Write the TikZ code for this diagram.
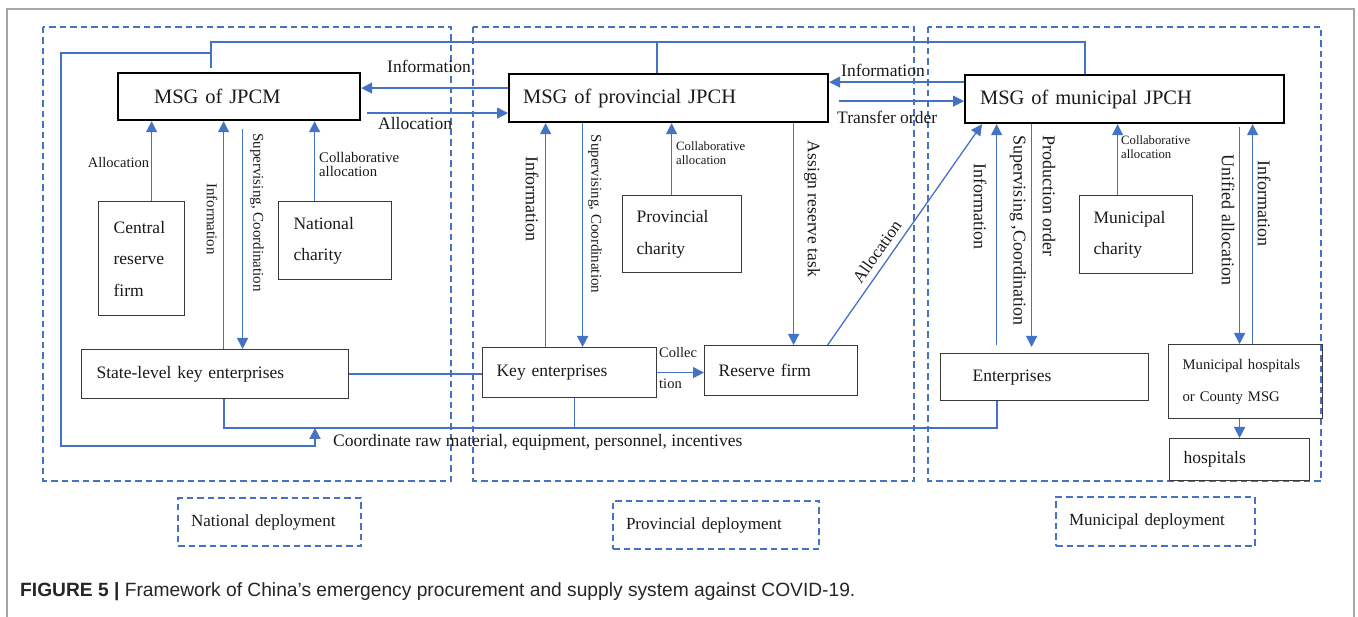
\documentclass[tikz,border=0pt]{standalone}
\usepackage{fontspec}
\setmainfont{Liberation Serif}
\newfontfamily\capfont{Liberation Sans}
\usetikzlibrary{arrows.meta}
\definecolor{bl}{HTML}{4472C4}
\definecolor{bd}{HTML}{3A3A3A}
\definecolor{fr}{HTML}{A6A6A6}
\definecolor{tx}{HTML}{1A1A1A}
\newcommand\fsz[2]{\fontsize{#1}{#2}\selectfont}
\begin{document}
\begin{tikzpicture}[x=1pt,y=-1pt,
  every node/.style={text=tx},
  region/.style={draw=bl, line width=2pt, dash pattern=on 6.5pt off 4pt},
  box/.style={draw=bd, line width=1.2pt, anchor=north west, inner ysep=0pt, align=left, font=\fsz{17.5}{31.5}},
  msg/.style={draw=black, line width=2.2pt, anchor=north west, inner ysep=0pt, align=left, font=\fsz{20.5}{24}},
  dep/.style={draw=bl, line width=2pt, dash pattern=on 6.5pt off 4pt, anchor=north west, inner ysep=0pt, align=left, font=\fsz{17}{20}},
  arr/.style={draw=bl, line width=1.3pt, -{Triangle[length=11pt,width=11pt]}},
  ln/.style={draw=bl, line width=1.3pt},
  thk/.style={draw=bl, line width=2pt},
  lab/.style={inner sep=0pt, font=\fsz{17.5}{20}},
  labs/.style={inner sep=0pt, font=\fsz{14.7}{14}},
  labxs/.style={inner sep=0pt, font=\fsz{12.7}{13.5}}]
\useasboundingbox (0,0) rectangle (1358,617);
% outer frame
\draw[fr, line width=1.5pt] (7,640) -- (7,9) -- (1354,9) -- (1354,640);
% regions
\draw[region] (43,27) rectangle (451,481);
\draw[region] (473,27) rectangle (914,481);
\draw[region] (928,27) rectangle (1321,481);
% main boxes
\node[msg, minimum width=242pt, minimum height=47pt, inner xsep=36pt, text width=170pt] (jpcm) at (117,72) {MSG of JPCM};
\node[msg, minimum width=319pt, minimum height=48pt, inner xsep=14pt, text width=291pt] (prov) at (508,73) {MSG of provincial JPCH};
\node[msg, minimum width=319pt, minimum height=48pt, inner xsep=15pt, text width=289pt] (muni) at (964,74) {MSG of municipal JPCH};
\node[box, minimum width=86pt, minimum height=114pt, inner xsep=15pt, text width=56pt] (central) at (98,201) {Central\\reserve\\firm};
\node[box, minimum width=113pt, minimum height=78pt, inner xsep=15pt, text width=83pt] (natchar) at (278,201) {National\\charity};
\node[box, minimum width=267pt, minimum height=49pt, inner xsep=15pt, text width=237pt] (state) at (81,349) {State-level key enterprises};
\node[box, minimum width=119pt, minimum height=77pt, inner xsep=14pt, text width=91pt] (provchar) at (622,195) {Provincial\\charity};
\node[box, minimum width=174pt, minimum height=50pt, inner xsep=14pt, text width=146pt] (keyent) at (482,347) {Key enterprises};
\node[box, minimum width=153pt, minimum height=50pt, inner xsep=14pt, text width=125pt] (reserve) at (704,345) {Reserve firm};
\node[box, minimum width=113pt, minimum height=78pt, inner xsep=14pt, text width=85pt] (munchar) at (1079,195) {Municipal\\charity};
\node[box, minimum width=208pt, minimum height=47pt, inner xsep=32pt, text width=144pt] (ent) at (940,353) {Enterprises};
\node[box, minimum width=154pt, minimum height=74pt, inner xsep=14pt, text width=126pt, font=\fsz{14.7}{32}] (munhosp) at (1168,344) {Municipal hospitals\\or County MSG};
\node[box, minimum width=140pt, minimum height=42pt, inner xsep=14pt, text width=112pt] (hosp) at (1169,438) {hospitals};
% deployment labels
\node[dep, minimum width=183pt, minimum height=48pt, inner xsep=13pt, text width=157pt] (natdep) at (177,497) {National deployment};
\node[dep, minimum width=206pt, minimum height=48pt, inner xsep=13pt, text width=180pt] (provdep) at (612,500) {Provincial deployment};
\node[dep, minimum width=199pt, minimum height=49pt, inner xsep=13pt, text width=173pt] (mundep) at (1055,496) {Municipal deployment};
% helper coordinates
\coordinate (topbus) at (0,42);
\coordinate (botbus) at (0,428);
\coordinate (lj) at (210,53);
\coordinate (lc) at (61,446);
\coordinate (busin) at (315,428);
% buses
\draw[thk, shorten <=4pt] ([xshift=-28pt]jpcm.north) |- ([xshift=-39.5pt]muni.north |- topbus) -- ([xshift=-39.5pt]muni.north);
\draw[thk] ([xshift=-11.5pt]prov.north) -- ([xshift=-11.5pt]prov.north |- topbus);
\draw[thk, -{Triangle[length=11pt,width=11pt]}] (lj) -| (lc) -| (busin);
\draw[thk] ([xshift=8.5pt]state.south) |- ([xshift=-48pt]ent.south |- botbus) -- ([xshift=-48pt]ent.south);
\draw[ln] ([xshift=5pt]keyent.south) -- ([xshift=5pt]keyent.south |- botbus);
% left region
\draw[arr] ([xshift=10pt]central.north) -- ([xshift=10pt]central.north |- jpcm.south);
\draw[arr] ([xshift=8.5pt]state.north) -- ([xshift=8.5pt]state.north |- jpcm.south);
\draw[arr, shorten <=8pt] ([xshift=27.5pt]state.north |- jpcm.south) -- ([xshift=27.5pt]state.north);
\draw[arr] ([xshift=-20.5pt]natchar.north) -- ([xshift=-20.5pt]natchar.north |- jpcm.south);
% between top boxes
\draw[arr] ([yshift=10pt]prov.west) -- ([yshift=10pt]prov.west -| jpcm.east);
\draw[arr, shorten <=6pt] ([yshift=-16.5pt]jpcm.east) -- ([yshift=-16.5pt]jpcm.east -| prov.west);
\draw[arr] ([yshift=17pt]muni.west) -- ([yshift=17pt]muni.west -| prov.east);
\draw[arr, shorten <=10pt] ([yshift=-2pt]muni.west -| prov.east) -- ([yshift=-2pt]muni.west);
% middle region
\draw[arr] ([xshift=-24pt]keyent.north) -- ([xshift=-24pt]keyent.north |- prov.south);
\draw[arr] ([xshift=13pt]keyent.north |- prov.south) -- ([xshift=13pt]keyent.north);
\draw[arr] ([xshift=-10.5pt]provchar.north) -- ([xshift=-10.5pt]provchar.north |- prov.south);
\draw[arr] ([xshift=12.5pt]reserve.north |- prov.south) -- ([xshift=12.5pt]reserve.north);
\draw[arr] (keyent.east) -- (keyent.east -| reserve.west);
\draw[ln] (state.east) -- (state.east -| keyent.west);
\draw[arr] ([xshift=46.5pt]reserve.north) -- ([xshift=18pt]muni.south west);
% right region
\draw[arr, shorten <=8pt] ([xshift=-48pt]ent.north) -- ([xshift=-48pt]ent.north |- muni.south);
\draw[arr, shorten >=6pt] ([xshift=-13pt]ent.north |- muni.south) -- ([xshift=-13pt]ent.north);
\draw[arr] ([xshift=-18.5pt]munchar.north) -- ([xshift=-18.5pt]munchar.north |- muni.south);
\draw[arr, shorten <=3pt] ([xshift=-6pt]munhosp.north |- muni.south) -- ([xshift=-6pt]munhosp.north);
\draw[arr] ([xshift=7pt]munhosp.north) -- ([xshift=7pt]munhosp.north |- muni.south);
\draw[arr] (munhosp.south -| hosp.north) -- (hosp.north);
% labels left
\node[labs, font=\fsz{14.5}{14}] (lAllocA) at (118.5,163) {Allocation};
\node[labs, font=\fsz{15}{15}, rotate=-90] (lInfoA) at (212,219) {Information};
\node[labs, font=\fsz{15}{15}, rotate=-90] (lSupA) at (257,212.5) {Supervising, Coordination};
\node[labs, anchor=west, align=left] (lColA) at (319,164) {Collaborative\\allocation};
% labels between
\node[lab, anchor=west] (lInfoB) at (387,66) {Information};
\node[lab, anchor=west] (lAllocB) at (378,124) {Allocation};
\node[lab, anchor=west] (lInfoC) at (841,70) {Information};
\node[lab, anchor=west] (lTrans) at (837,117) {Transfer order};
% labels middle
\node[lab, font=\fsz{18}{18}, rotate=-90] (lInfoD) at (532,199) {Information};
\node[labs, font=\fsz{15}{15}, rotate=-90] (lSupB) at (595,214) {Supervising, Coordination};
\node[labxs, anchor=west, align=left] (lColB) at (676,153) {Collaborative\\allocation};
\node[lab, rotate=-90] (lAssign) at (812,209) {Assign reserve task};
\node[labs, font=\fsz{14.5}{14}, anchor=west] (lColl1) at (659,353) {Collec};
\node[labs, font=\fsz{14.5}{14}, anchor=west] (lColl2) at (659,384) {tion};
\node[lab, font=\fsz{17}{17}, rotate=55] (lAllocC) at (877,252) {Allocation};
% labels right
\node[lab, font=\fsz{18}{18}, rotate=-90] (lInfoE) at (980,206.5) {Information};
\node[lab, font=\fsz{18}{18}, rotate=-90] (lSupC) at (1018,230) {Supervising ,Coordination};
\node[lab, font=\fsz{18}{18}, rotate=-90] (lProd) at (1049,196) {Production order};
\node[labxs, anchor=west, align=left] (lColC) at (1121,147) {Collaborative\\allocation};
\node[lab, font=\fsz{18}{18}, rotate=-90] (lUnif) at (1228,220) {Unified allocation};
\node[lab, font=\fsz{18}{18}, rotate=-90] (lInfoF) at (1264,203.5) {Information};
% bottom label
\node[lab, anchor=west] (lCoord) at (333,442) {Coordinate raw material, equipment, personnel, incentives};
% caption
\node[anchor=base west, inner sep=0pt, font=\capfont\fsz{19.2}{20}, text=black!85] (cap) at (20,596) {\textbf{FIGURE 5 |} Framework of China’s emergency procurement and supply system against COVID-19.};
\end{tikzpicture}
\end{document}
